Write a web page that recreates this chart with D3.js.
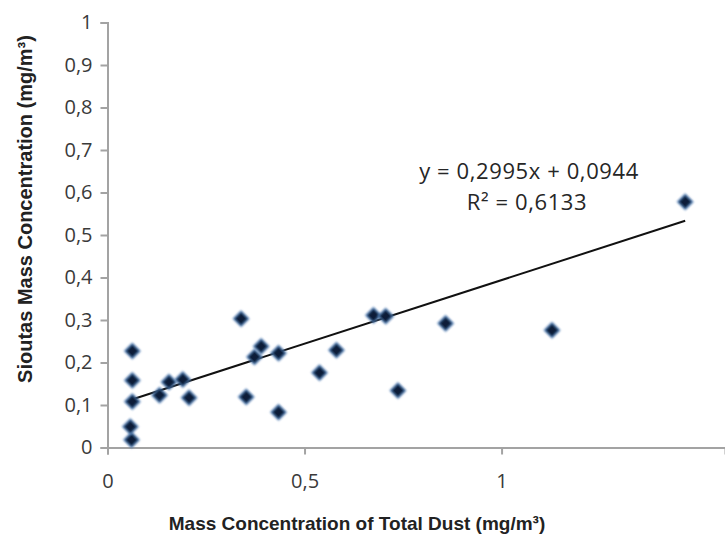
<!DOCTYPE html>
<html>
<head>
<meta charset="utf-8">
<script src="https://cdn.jsdelivr.net/npm/d3@7"></script>
<style>
  html, body { margin: 0; padding: 0; background: #ffffff; }
  svg { display: block; }
</style>
</head>
<body>
<div id="chart"></div>
<script>
// Total dust (x) versus Sioutas (y) mass concentrations, mg/m³
const totalDust = [0.061, 0.058, 0.063, 0.063, 0.063, 0.132, 0.156, 0.191, 0.207, 0.339, 0.352, 0.373,
                   0.390, 0.434, 0.434, 0.538, 0.581, 0.675, 0.706, 0.858, 0.737, 1.128, 1.466];
const sioutas   = [0.018, 0.049, 0.108, 0.158, 0.227, 0.123, 0.154, 0.160, 0.117, 0.303, 0.119, 0.213,
                   0.238, 0.222, 0.083, 0.176, 0.229, 0.311, 0.309, 0.292, 0.134, 0.276, 0.578];

// Linear trendline reported for the series
const trendSlope = 0.2995;
const trendIntercept = 0.0944;
const trendR2 = 0.6133;

const xTickValues = [0, 0.5, 1];
const yTickValues = [0, 0.1, 0.2, 0.3, 0.4, 0.5, 0.6, 0.7, 0.8, 0.9, 1];

const xTitle = "Mass Concentration of Total Dust (mg/m³)";
const yTitle = "Sioutas Mass Concentration (mg/m³)";

const width = 725, height = 534;

const locale = d3.formatLocale({ decimal: ",", thousands: ".", grouping: [3], currency: ["", ""] });
const fmtTick = v => locale.format("~g")(v);
const fmtCoef = locale.format(".4f");

const svg = d3.select("#chart").append("svg")
  .attr("width", width).attr("height", height);

const defs = svg.append("defs");
defs.append("filter").attr("id", "soft")
  .attr("x", "-50%").attr("y", "-50%").attr("width", "200%").attr("height", "200%")
  .append("feGaussianBlur").attr("stdDeviation", 0.9);

const x = d3.scaleLinear().domain([0, 1.567]).range([107.5, 725]);
const y = d3.scaleLinear().domain([0, 1]).range([447.5, 22.5]);

const axisColor = "#a3a3a3";
const tickTextColor = "#3a3a3a";

// Y axis
const yAxis = svg.append("g")
  .attr("transform", `translate(${x(0)},0)`)
  .call(d3.axisLeft(y).tickValues(yTickValues).tickFormat(fmtTick).tickSize(7).tickPadding(8));
yAxis.select(".domain").attr("stroke", axisColor).attr("stroke-width", 2);
yAxis.selectAll(".tick line").attr("stroke", axisColor).attr("stroke-width", 2);
yAxis.selectAll(".tick text")
  .attr("fill", tickTextColor)
  .style("font-family", "'Open Sans', sans-serif")
  .style("font-size", "20px");

// X axis
const xAxis = svg.append("g")
  .attr("transform", `translate(0,${y(0)})`)
  .call(d3.axisBottom(x).tickValues(xTickValues).tickFormat(fmtTick).tickSize(7).tickPadding(19));
xAxis.select(".domain").attr("stroke", axisColor).attr("stroke-width", 2);
xAxis.selectAll(".tick line").attr("stroke", axisColor).attr("stroke-width", 2);
xAxis.selectAll(".tick text")
  .attr("fill", tickTextColor)
  .style("font-family", "'Open Sans', sans-serif")
  .style("font-size", "20px");

// Axis titles
svg.append("text")
  .attr("x", 357).attr("y", 530)
  .attr("text-anchor", "middle")
  .attr("fill", "#222")
  .style("font-family", "'Liberation Sans', Arial, sans-serif")
  .style("font-weight", "bold")
  .style("font-size", "19px")
  .text(xTitle);

svg.append("text")
  .attr("transform", "translate(32,209) rotate(-90)")
  .attr("text-anchor", "middle")
  .attr("fill", "#222")
  .style("font-family", "'Liberation Sans', Arial, sans-serif")
  .style("font-weight", "bold")
  .style("font-size", "20px")
  .text(yTitle);

// Trendline over the range of the data
const xExt = d3.extent(totalDust);
const trend = xExt.map(v => [v, trendSlope * v + trendIntercept]);
svg.append("path")
  .datum(trend)
  .attr("fill", "none")
  .attr("stroke", "#111")
  .attr("stroke-width", 2)
  .attr("d", d3.line().x(d => x(d[0])).y(d => y(d[1])));

// Diamond markers
const points = totalDust.map((v, i) => [v, sioutas[i]]);
const diamond = d3.symbol().type(d3.symbolSquare).size(115);
svg.append("g").selectAll("path")
  .data(points)
  .join("path")
  .attr("d", diamond)
  .attr("transform", d => `translate(${x(d[0])},${y(d[1])}) rotate(45)`)
  .attr("fill", "#0b1c38")
  .attr("stroke", "#4f7fb8")
  .attr("stroke-width", 1.4)
  .attr("filter", "url(#soft)");

// Trendline equation
const eqFont = "'Open Sans', sans-serif";
svg.append("text")
  .attr("x", 529).attr("y", 179)
  .attr("text-anchor", "middle")
  .attr("fill", "#262626")
  .style("font-family", eqFont)
  .style("font-size", "22px")
  .style("letter-spacing", "0.6px")
  .text(`y = ${fmtCoef(trendSlope)}x + ${fmtCoef(trendIntercept)}`);
svg.append("text")
  .attr("x", 527).attr("y", 210)
  .attr("text-anchor", "middle")
  .attr("fill", "#262626")
  .style("font-family", eqFont)
  .style("font-size", "22px")
  .style("letter-spacing", "0.6px")
  .text(`R² = ${fmtCoef(trendR2)}`);
</script>
</body>
</html>
